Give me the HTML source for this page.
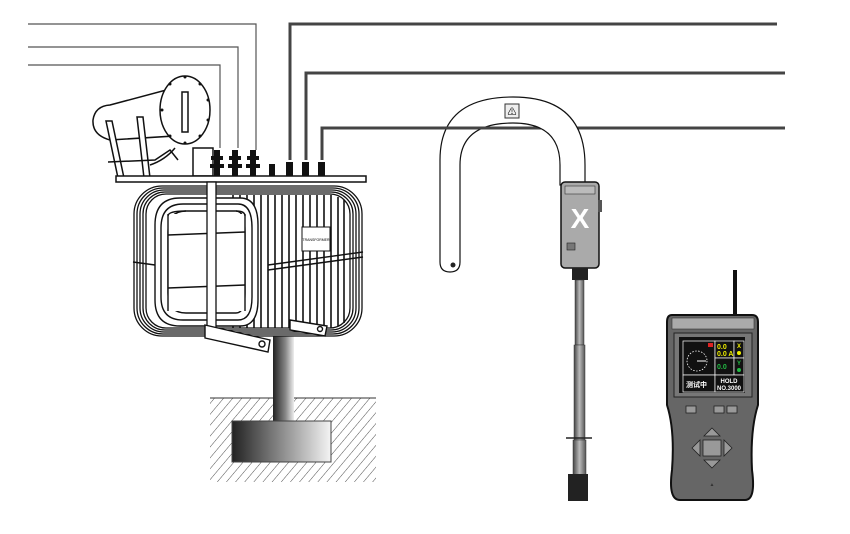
<!DOCTYPE html>
<html><head><meta charset="utf-8"><style>
html,body{margin:0;padding:0;background:#fff;}
svg{display:block;}
text{font-family:"Liberation Sans","Noto Sans CJK SC",sans-serif;}
</style></head><body>
<svg width="850" height="534" viewBox="0 0 850 534" xmlns="http://www.w3.org/2000/svg">
<defs>
<linearGradient id="pole" x1="0" x2="1"><stop offset="0" stop-color="#222"/><stop offset="0.6" stop-color="#888"/><stop offset="1" stop-color="#eee"/></linearGradient>
<linearGradient id="blk" x1="0" x2="1"><stop offset="0" stop-color="#222"/><stop offset="1" stop-color="#f4f4f4"/></linearGradient>
<linearGradient id="stick" x1="0" x2="1"><stop offset="0" stop-color="#444"/><stop offset="0.5" stop-color="#bbb"/><stop offset="1" stop-color="#555"/></linearGradient>
<pattern id="hatch" width="7" height="7" patternUnits="userSpaceOnUse" patternTransform="rotate(40)"><line x1="0" y1="0" x2="0" y2="7" stroke="#222" stroke-width="0.8"/></pattern>
<clipPath id="gclip"><rect x="210" y="398" width="166" height="84"/></clipPath>
</defs>

<g fill="none" stroke="#555" stroke-width="1.2">
<polyline points="28,24 256,24 256,150"/>
<polyline points="28,47 238,47 238,148"/>
<polyline points="28,65 220,65 220,148"/>
</g>
<g fill="none" stroke="#444" stroke-width="3">
<polyline points="777,24 290,24 290,160"/>
<polyline points="785,73 306,73 306,160"/>
<polyline points="785,128 322,128 322,160"/>
</g>

<rect x="210" y="398" width="166" height="84" fill="url(#hatch)" clip-path="url(#gclip)"/>
<line x1="210" y1="398" x2="376" y2="398" stroke="#333"/>
<rect x="273" y="320" width="21" height="105" fill="url(#pole)"/>
<rect x="232" y="421" width="99" height="41" fill="url(#blk)" stroke="#444"/>

<!-- conservator -->
<g stroke="#111" stroke-width="1.5" fill="#fff">
<path d="M110,105 L185,85 L190,135 L110,140 Q92,135 93,120 Q95,106 110,105Z"/>
<rect x="193" y="148" width="20" height="28"/>
<ellipse cx="185" cy="110" rx="25" ry="34"/>
<rect x="182" y="92" width="6" height="40"/>
<polygon points="106,121 112,121 124,178 118,178"/>
<polygon points="137,117 143,117 150,178 144,178"/>
<polyline points="108,162 155,160 170,150 178,160" fill="none"/>
<path d="M150,165 Q165,160 175,148" fill="none"/>
</g>
<g fill="#111"><circle cx="170" cy="84" r="1.5"/><circle cx="185" cy="77" r="1.5"/><circle cx="200" cy="84" r="1.5"/><circle cx="208" cy="100" r="1.5"/><circle cx="208" cy="120" r="1.5"/><circle cx="200" cy="136" r="1.5"/><circle cx="185" cy="143" r="1.5"/><circle cx="170" cy="136" r="1.5"/><circle cx="162" cy="110" r="1.5"/></g>

<rect x="116" y="176" width="250" height="6" fill="#fff" stroke="#111" stroke-width="1.5"/>
<g fill="#111">
<path d="M214,176 v-8 h-4 v-4 h4 v-4 h-3 v-4 h3 v-6 h6 v6 h3 v4 h-3 v4 h4 v4 h-4 v8z"/>
<path d="M232,176 v-8 h-4 v-4 h4 v-4 h-3 v-4 h3 v-6 h6 v6 h3 v4 h-3 v4 h4 v4 h-4 v8z"/>
<path d="M250,176 v-8 h-4 v-4 h4 v-4 h-3 v-4 h3 v-6 h6 v6 h3 v4 h-3 v4 h4 v4 h-4 v8z"/>
<rect x="269" y="164" width="6" height="12"/><rect x="286" y="162" width="7" height="14"/><rect x="302" y="162" width="7" height="14"/><rect x="318" y="162" width="7" height="14"/>
</g>

<!-- tank -->
<g fill="#fff" stroke="#111" stroke-width="1.3">
<rect x="134" y="186" width="228" height="150" rx="28"/>
<rect x="137" y="188" width="222" height="146" rx="26"/>
<rect x="140" y="190" width="216" height="142" rx="24"/>
<rect x="143" y="192" width="210" height="138" rx="22"/>
<rect x="146" y="194" width="204" height="134" rx="20"/>
</g>
<g stroke="#111" stroke-width="1.6">
<line x1="233" y1="195" x2="233" y2="328"/><line x1="240" y1="195" x2="240" y2="328"/><line x1="247" y1="195" x2="247" y2="328"/><line x1="254" y1="195" x2="254" y2="328"/><line x1="261" y1="195" x2="261" y2="328"/><line x1="268" y1="195" x2="268" y2="328"/><line x1="275" y1="195" x2="275" y2="328"/><line x1="282" y1="195" x2="282" y2="328"/><line x1="289" y1="195" x2="289" y2="328"/><line x1="296" y1="195" x2="296" y2="328"/><line x1="303" y1="195" x2="303" y2="328"/><line x1="310" y1="195" x2="310" y2="328"/><line x1="317" y1="195" x2="317" y2="328"/><line x1="324" y1="195" x2="324" y2="328"/><line x1="331" y1="195" x2="331" y2="328"/><line x1="338" y1="197" x2="338" y2="326"/><line x1="344" y1="200" x2="344" y2="323"/>
</g>
<!-- left U loops -->
<g fill="#fff" stroke="#111" stroke-width="1.4">
<path d="M210,198 H180 Q155,198 155,225 V300 Q155,326 180,326 H210"/>
<path d="M210,204 H183 Q161,204 161,228 V297 Q161,320 183,320 H210" fill="none"/>
<path d="M210,211 H186 Q168,211 168,232 V293 Q168,313 186,313 H210" fill="none"/>
<path d="M216,198 H240 Q258,198 258,225 V300 Q258,326 240,326 H216"/>
<path d="M216,204 H238 Q252,204 252,228 V297 Q252,320 238,320 H216" fill="none"/>
<path d="M216,211 H236 Q245,211 245,232 V293 Q245,313 236,313 H216" fill="none"/>
</g>
<rect x="168" y="214" width="77" height="97" fill="#fff"/>
<g stroke="#111" stroke-width="1.4" fill="none">
<path d="M168,216 Q168,211 186,211 M245,216 Q245,211 236,211"/>
<line x1="168" y1="214" x2="168" y2="311"/><line x1="245" y1="214" x2="245" y2="311"/>
<line x1="168" y1="235" x2="245" y2="232"/><line x1="168" y1="288" x2="245" y2="285"/>
<line x1="133" y1="262" x2="155" y2="265"/>
<line x1="268" y1="265" x2="363" y2="252"/><line x1="268" y1="270" x2="363" y2="257"/>
</g>
<rect x="207" y="182" width="9" height="152" fill="#fff" stroke="#111" stroke-width="1.3"/>
<rect x="302" y="227" width="28" height="24" fill="#fff" stroke="#111"/>
<text x="316" y="241" font-size="3.5" text-anchor="middle">TRANSFORMER</text>
<g fill="#fff" stroke="#111" stroke-width="1.4">
<path d="M205,325 L270,340 L268,352 L205,338Z"/><circle cx="262" cy="344" r="3"/>
<path d="M290,320 L327,326 L325,336 L290,330Z"/><circle cx="320" cy="329" r="2.5"/>
</g>

<!-- clamp -->
<path d="M440,262 L440,160 Q440,97 513,97 Q585,97 585,165 L585,185 L560,185 L560,165 Q560,123 513,123 Q460,123 460,165 L460,262 Q460,272 450,272 Q440,272 440,262Z" fill="#fff" stroke="#111" stroke-width="1.2"/>
<line x1="322" y1="128" x2="530" y2="128" stroke="#444" stroke-width="3"/>
<line x1="583" y1="128" x2="785" y2="128" stroke="#444" stroke-width="3"/>
<rect x="505" y="104" width="14" height="14" fill="#eee" stroke="#333"/>
<text x="512" y="115" font-size="9" text-anchor="middle">⚠</text>
<circle cx="453" cy="265" r="2.5" fill="#222"/>
<rect x="561" y="182" width="38" height="86" rx="4" fill="#aaa" stroke="#111" stroke-width="1.5"/>
<rect x="565" y="186" width="30" height="8" fill="#bbb" stroke="#333" stroke-width="0.6"/>
<rect x="598" y="200" width="4" height="12" fill="#555"/>
<text x="580" y="228" font-size="28" font-weight="bold" fill="#fff" text-anchor="middle">X</text>
<rect x="567" y="243" width="8" height="7" fill="#777" stroke="#222" stroke-width="0.6"/>
<rect x="572" y="268" width="16" height="12" fill="#222"/>
<rect x="575" y="280" width="9" height="65" fill="url(#stick)" stroke="#333" stroke-width="0.5"/>
<rect x="574" y="345" width="11" height="95" fill="url(#stick)" stroke="#333" stroke-width="0.5"/>
<rect x="573" y="440" width="13" height="35" fill="url(#stick)" stroke="#333" stroke-width="0.5"/>
<line x1="566" y1="438" x2="592" y2="438" stroke="#222" stroke-width="1.5"/>
<rect x="568" y="474" width="20" height="27" fill="#222"/>

<!-- handheld -->
<rect x="733" y="270" width="4" height="46" fill="#111"/>
<path d="M672,315 H752 Q758,315 758,322 V405 Q750,430 752,470 Q756,500 745,500 H680 Q668,500 672,470 Q675,430 667,405 V322 Q667,315 672,315Z" fill="#666" stroke="#111" stroke-width="2"/>
<rect x="672" y="318" width="82" height="11" fill="#aaa" stroke="#333" stroke-width="0.6"/>
<rect x="674" y="333" width="78" height="64" fill="#777" stroke="#222"/>
<rect x="679" y="337" width="66" height="56" fill="#111"/>
<rect x="683" y="341" width="32" height="34" fill="#111" stroke="#fff" stroke-width="0.7"/>
<circle cx="697" cy="361" r="10" fill="none" stroke="#fff" stroke-width="0.8" stroke-dasharray="1.5 1.5"/>
<line x1="697" y1="361" x2="706" y2="361" stroke="#fff"/>
<rect x="708" y="343" width="5" height="4" fill="#d22"/>
<rect x="715" y="341" width="19" height="17" fill="#111" stroke="#fff" stroke-width="0.7"/>
<rect x="734" y="341" width="10" height="17" fill="#111" stroke="#fff" stroke-width="0.7"/>
<rect x="715" y="358" width="19" height="17" fill="#111" stroke="#fff" stroke-width="0.7"/>
<rect x="734" y="358" width="10" height="17" fill="#111" stroke="#fff" stroke-width="0.7"/>
<text x="717" y="349" font-size="7" font-weight="bold" fill="#ee0">0.0</text>
<text x="717" y="356" font-size="7" font-weight="bold" fill="#ee0">0.0 A</text>
<text x="717" y="369" font-size="7" font-weight="bold" fill="#2b4">0.0</text>
<text x="737" y="348" font-size="6" font-weight="bold" fill="#ee0">X</text>
<circle cx="739" cy="353" r="2" fill="#ee0"/>
<text x="737" y="365" font-size="6" font-weight="bold" fill="#2b4">Y</text>
<circle cx="739" cy="370" r="2" fill="#2b4"/>
<rect x="683" y="375" width="32" height="17" fill="#111" stroke="#fff" stroke-width="0.7"/>
<rect x="715" y="375" width="29" height="17" fill="#111" stroke="#fff" stroke-width="0.7"/>
<text x="686" y="387" font-size="7" font-weight="bold" fill="#fff">测试中</text>
<text x="729" y="383" font-size="6" font-weight="bold" fill="#fff" text-anchor="middle">HOLD</text>
<text x="729" y="390" font-size="6" font-weight="bold" fill="#fff" text-anchor="middle">NO.3000</text>
<g fill="#999" stroke="#222" stroke-width="0.8">
<rect x="686" y="406" width="10" height="7"/><rect x="714" y="406" width="10" height="7"/><rect x="727" y="406" width="10" height="7"/>
<rect x="703" y="440" width="18" height="16"/>
<path d="M712,428 L720,436 H704Z"/><path d="M712,468 L720,460 H704Z"/>
<path d="M692,448 L700,440 V456Z"/><path d="M732,448 L724,440 V456Z"/>
</g>
<text x="712" y="486" font-size="5" fill="#333" text-anchor="middle">▲</text>
</svg>
</body></html>
